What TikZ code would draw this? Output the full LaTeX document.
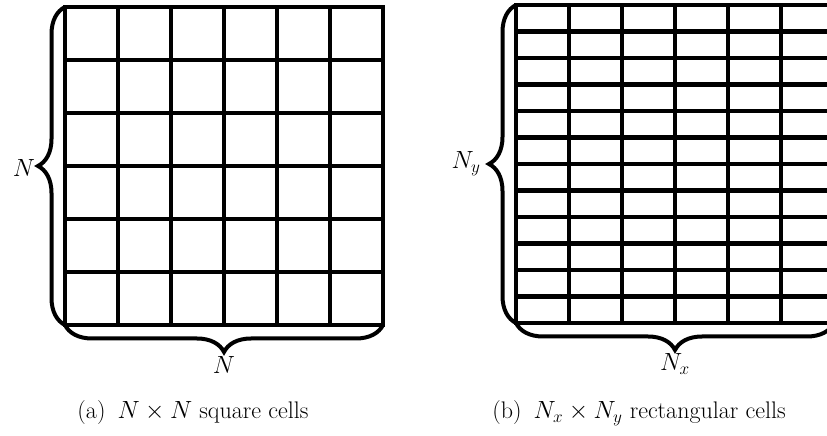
\documentclass[tikz,border=0pt]{standalone}
\usetikzlibrary{decorations.pathreplacing}
\begin{document}
\begin{tikzpicture}[x=1pt,y=1pt,
  gridline/.style={line width=4.2pt,line cap=rect},
  bracebig/.style={line width=4pt,decorate,decoration={brace,amplitude=27pt}},
  lbl/.style={font=\fontsize{24}{28}\selectfont,inner sep=0pt}]
\useasboundingbox (0,0) rectangle (827,436);
% left grid 6x6
\foreach \i in {0,...,6} {
  \draw[gridline] (65+53*\i,111) -- (65+53*\i,429);
  \draw[gridline] (65,111+53*\i) -- (383,111+53*\i);
}
\coordinate (aBL) at (65,111);
\coordinate (aTL) at (65,429);
\coordinate (aBR) at (383,111);
\draw[bracebig] (aBL) -- (aTL);
\draw[bracebig] (aBR) -- (aBL);
\node[lbl] (aN1) at (24,268) {$N$};
\node[lbl] (aN2) at (224,71) {$N$};
\node[lbl] (capa) at (193,23) {(a)\enspace$N\times N$ square cells};
% right grid 6x12
\foreach \i in {0,...,6} {
  \draw[gridline] (516+53*\i,113) -- (516+53*\i,431);
}
\foreach \j in {0,...,12} {
  \draw[gridline] (516,113+26.5*\j) -- (834,113+26.5*\j);
}
\coordinate (bBL) at (516,113);
\coordinate (bTL) at (516,431);
\coordinate (bBR) at (834,113);
\draw[bracebig] (bBL) -- (bTL);
\draw[bracebig] (bBR) -- (bBL);
\node[lbl] (bN1) at (466,272) {$N_y$};
\node[lbl] (bN2) at (675,72) {$N_x$};
\node[lbl] (capb) at (639,23) {(b)\enspace$N_x\times N_y$ rectangular cells};
\end{tikzpicture}
\end{document}
